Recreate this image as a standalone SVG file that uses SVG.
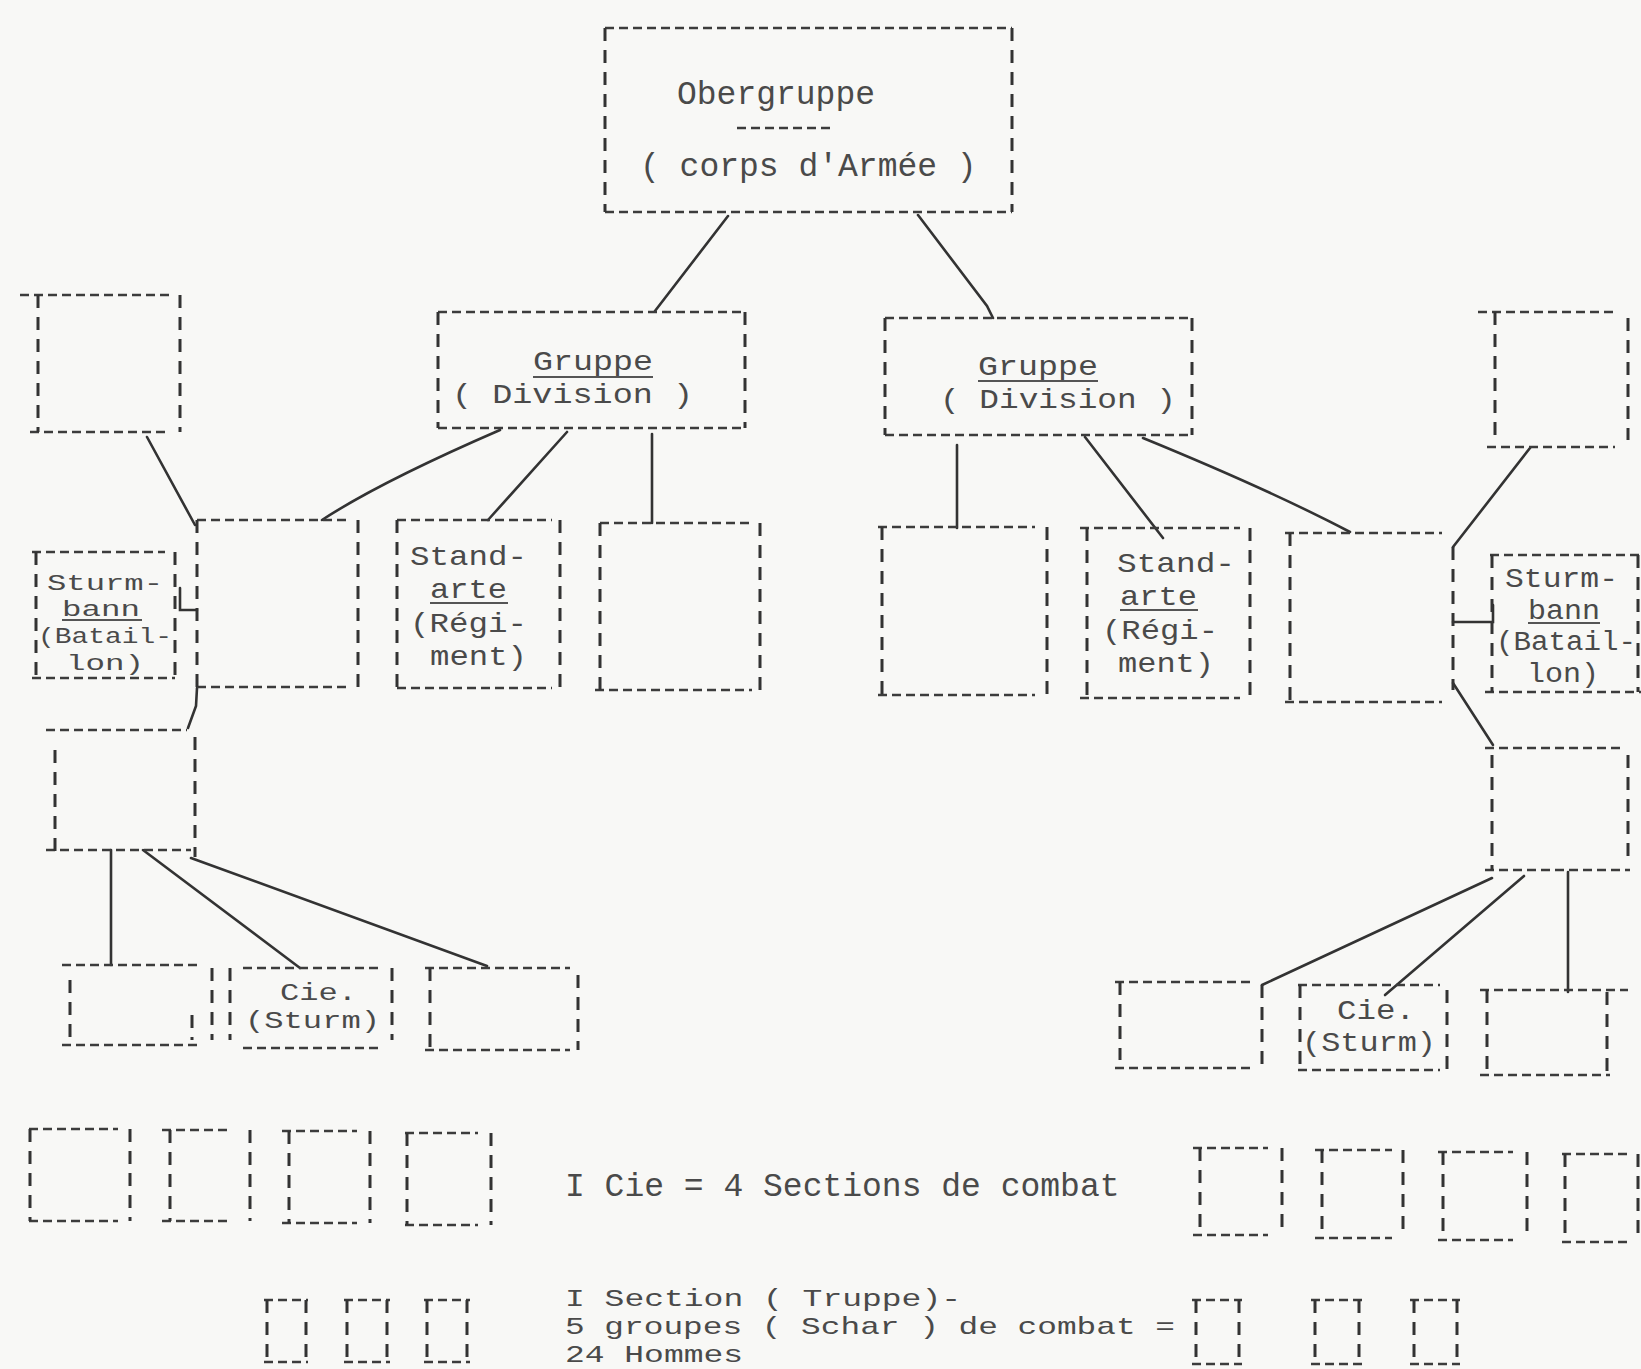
<svg xmlns="http://www.w3.org/2000/svg" width="1641" height="1369" viewBox="0 0 1641 1369">
<style>
.bg{fill:#f8f8f6}
.h{stroke:#3c3c3c;stroke-width:2.4;stroke-dasharray:9 5;fill:none}
.v{stroke:#333;stroke-width:3;stroke-dasharray:13 9;fill:none}
.c{stroke:#333;stroke-width:2.6;fill:none;stroke-linecap:round}
.u{stroke:#555;stroke-width:2}
text{font-family:"Liberation Mono","DejaVu Sans Mono",monospace;font-size:33px;fill:#4a4a4a}
.f28{font-size:28.5px}
.f27{font-size:27px}
.f24{font-size:24px}
.f22{font-size:22.5px}
</style>
<rect class="bg" x="0" y="0" width="1641" height="1369"/>
<g id="connectors">
<path class="c" d="M728,216 L655,311"/>
<path class="c" d="M918,215 L987,306 L993,318"/>
<path class="c" d="M500,430 Q380,482 322,520"/>
<path class="c" d="M567,432 L488,520"/>
<path class="c" d="M652,434 L652,523"/>
<path class="c" d="M147,437 L195,525"/>
<path class="c" d="M180,588 V610 H197"/>
<path class="c" d="M197,688 L196,706 L188,728"/>
<path class="c" d="M111,850 V965"/>
<path class="c" d="M143,850 L300,968"/>
<path class="c" d="M191,858 L487,966"/>
<path class="c" d="M957,445 V528"/>
<path class="c" d="M1085,437 L1163,538"/>
<path class="c" d="M1143,438 Q1270,490 1350,532"/>
<path class="c" d="M1530,448 L1453,547"/>
<path class="c" d="M1453,622 H1493 V605"/>
<path class="c" d="M1453,683 L1493,745"/>
<path class="c" d="M1492,878 L1262,985"/>
<path class="c" d="M1524,876 L1385,995"/>
<path class="c" d="M1568,872 V992"/>
</g>
<g id="obergruppe">
<line class="h" x1="605" y1="28" x2="1012" y2="28"/><line class="h" x1="605" y1="212" x2="1012" y2="212"/>
<line class="v" x1="605" y1="28" x2="605" y2="212"/><line class="v" x1="1012" y1="28" x2="1012" y2="212"/>
<text x="677" y="104">Obergruppe</text>
<line class="h" x1="737" y1="128" x2="835" y2="128"/>
<text x="640" y="176">( corps d'Armée )</text>
</g>
<g id="gruppe-left">
<line class="h" x1="438" y1="312" x2="745" y2="312"/><line class="h" x1="438" y1="428" x2="745" y2="428"/>
<line class="v" x1="438" y1="312" x2="438" y2="428"/><line class="v" x1="745" y1="312" x2="745" y2="428"/>
<text class="f28" x="533" y="370" textLength="120" lengthAdjust="spacingAndGlyphs">Gruppe</text><line class="u" x1="533" y1="377" x2="653" y2="377"/>
<text class="f28" x="452" y="403" textLength="241" lengthAdjust="spacingAndGlyphs">( Division )</text>
</g>
<g id="gruppe-right">
<line class="h" x1="885" y1="318" x2="1192" y2="318"/><line class="h" x1="885" y1="435" x2="1192" y2="435"/>
<line class="v" x1="885" y1="318" x2="885" y2="435"/><line class="v" x1="1192" y1="318" x2="1192" y2="435"/>
<text class="f28" x="978" y="375" textLength="120" lengthAdjust="spacingAndGlyphs">Gruppe</text><line class="u" x1="978" y1="381" x2="1098" y2="381"/>
<text class="f28" x="940" y="408" textLength="236" lengthAdjust="spacingAndGlyphs">( Division )</text>
</g>
<g id="left-top-box">
<line class="h" x1="20" y1="295" x2="170" y2="295"/><line class="h" x1="30" y1="432" x2="168" y2="432"/>
<line class="v" x1="38" y1="295" x2="38" y2="432"/><line class="v" x1="180" y1="295" x2="180" y2="432"/>
</g>
<g id="left-box-2">
<line class="h" x1="197" y1="520" x2="350" y2="520"/><line class="h" x1="197" y1="687" x2="350" y2="687"/>
<line class="v" x1="197" y1="520" x2="197" y2="687"/><line class="v" x1="358" y1="520" x2="358" y2="687"/>
</g>
<g id="sturmbann-left">
<line class="h" x1="32" y1="552" x2="165" y2="552"/><line class="h" x1="32" y1="678" x2="175" y2="678"/>
<line class="v" x1="36" y1="552" x2="36" y2="678"/><line class="v" x1="175" y1="552" x2="175" y2="678"/>
<text class="f22" x="47" y="590" textLength="116" lengthAdjust="spacingAndGlyphs">Sturm-</text>
<text class="f22" x="62" y="616" textLength="78" lengthAdjust="spacingAndGlyphs">bann</text><line class="u" x1="62" y1="620" x2="142" y2="620"/>
<text class="f22" x="38" y="643" textLength="134" lengthAdjust="spacingAndGlyphs">(Batail-</text>
<text class="f22" x="66" y="670" textLength="78" lengthAdjust="spacingAndGlyphs">lon)</text>
</g>
<g id="standarte-left">
<line class="h" x1="397" y1="520" x2="552" y2="520"/><line class="h" x1="397" y1="688" x2="552" y2="688"/>
<line class="v" x1="397" y1="520" x2="397" y2="688"/><line class="v" x1="560" y1="520" x2="560" y2="688"/>
<text class="f28" x="410" y="565" textLength="117" lengthAdjust="spacingAndGlyphs">Stand-</text>
<text class="f28" x="430" y="598" textLength="77" lengthAdjust="spacingAndGlyphs">arte</text><line class="u" x1="430" y1="603" x2="508" y2="603"/>
<text class="f28" x="410" y="632" textLength="117" lengthAdjust="spacingAndGlyphs">(Régi-</text>
<text class="f28" x="430" y="665" textLength="97" lengthAdjust="spacingAndGlyphs">ment)</text>
</g>
<g id="left-box-4">
<line class="h" x1="600" y1="523" x2="752" y2="523"/><line class="h" x1="595" y1="690" x2="752" y2="690"/>
<line class="v" x1="600" y1="523" x2="600" y2="690"/><line class="v" x1="760" y1="523" x2="760" y2="690"/>
</g>
<g id="right-box-a">
<line class="h" x1="878" y1="527" x2="1035" y2="527"/><line class="h" x1="878" y1="695" x2="1035" y2="695"/>
<line class="v" x1="882" y1="527" x2="882" y2="695"/><line class="v" x1="1047" y1="527" x2="1047" y2="695"/>
</g>
<g id="standarte-right">
<line class="h" x1="1080" y1="528" x2="1240" y2="528"/><line class="h" x1="1080" y1="698" x2="1240" y2="698"/>
<line class="v" x1="1087" y1="528" x2="1087" y2="698"/><line class="v" x1="1250" y1="528" x2="1250" y2="698"/>
<text class="f28" x="1117" y="572" textLength="118" lengthAdjust="spacingAndGlyphs">Stand-</text>
<text class="f28" x="1120" y="605" textLength="77" lengthAdjust="spacingAndGlyphs">arte</text><line class="u" x1="1120" y1="610" x2="1198" y2="610"/>
<text class="f28" x="1102" y="639" textLength="116" lengthAdjust="spacingAndGlyphs">(Régi-</text>
<text class="f28" x="1118" y="672" textLength="96" lengthAdjust="spacingAndGlyphs">ment)</text>
</g>
<g id="right-box-3">
<line class="h" x1="1285" y1="533" x2="1442" y2="533"/><line class="h" x1="1285" y1="702" x2="1442" y2="702"/>
<line class="v" x1="1290" y1="533" x2="1290" y2="702"/><line class="v" x1="1453" y1="547" x2="1453" y2="690"/>
</g>
<g id="right-top-box">
<line class="h" x1="1478" y1="312" x2="1613" y2="312"/><line class="h" x1="1487" y1="447" x2="1615" y2="447"/>
<line class="v" x1="1495" y1="312" x2="1495" y2="440"/><line class="v" x1="1628" y1="318" x2="1628" y2="440"/>
</g>
<g id="sturmbann-right">
<line class="h" x1="1490" y1="555" x2="1641" y2="555"/><line class="h" x1="1485" y1="692" x2="1641" y2="692"/>
<line class="v" x1="1492" y1="555" x2="1492" y2="692"/><line class="v" x1="1638" y1="555" x2="1638" y2="692"/>
<text class="f27" x="1505" y="587" textLength="113" lengthAdjust="spacingAndGlyphs">Sturm-</text>
<text class="f27" x="1528" y="619" textLength="72" lengthAdjust="spacingAndGlyphs">bann</text><line class="u" x1="1528" y1="623" x2="1600" y2="623"/>
<text class="f27" x="1496" y="650" textLength="140" lengthAdjust="spacingAndGlyphs">(Batail-</text>
<text class="f27" x="1527" y="682" textLength="72" lengthAdjust="spacingAndGlyphs">lon)</text>
</g>
<g id="left-lower-box">
<line class="h" x1="46" y1="730" x2="187" y2="730"/><line class="h" x1="46" y1="850" x2="191" y2="850"/>
<line class="v" x1="55" y1="750" x2="55" y2="857"/><line class="v" x1="195" y1="737" x2="195" y2="857"/>
</g>
<g id="left-company-1">
<line class="h" x1="62" y1="965" x2="200" y2="965"/><line class="h" x1="62" y1="1045" x2="197" y2="1045"/>
<line class="v" x1="70" y1="980" x2="70" y2="1037"/><line class="v" x1="192" y1="1015" x2="192" y2="1040"/>
</g>
<g id="cie-left">
<line class="h" x1="243" y1="968" x2="378" y2="968"/><line class="h" x1="243" y1="1048" x2="378" y2="1048"/>
<line class="v" x1="212" y1="968" x2="212" y2="1040"/><line class="v" x1="230" y1="968" x2="230" y2="1040"/>
<line class="v" x1="392" y1="968" x2="392" y2="1040"/>
<text class="f24" x="280" y="1000" textLength="77" lengthAdjust="spacingAndGlyphs">Cie.</text>
<text class="f24" x="245" y="1028" textLength="135" lengthAdjust="spacingAndGlyphs">(Sturm)</text>
</g>
<g id="left-company-3">
<line class="h" x1="425" y1="968" x2="570" y2="968"/><line class="h" x1="425" y1="1050" x2="570" y2="1050"/>
<line class="v" x1="430" y1="968" x2="430" y2="1050"/><line class="v" x1="578" y1="975" x2="578" y2="1050"/>
</g>
<g id="right-lower-box">
<line class="h" x1="1485" y1="748" x2="1620" y2="748"/><line class="h" x1="1485" y1="870" x2="1630" y2="870"/>
<line class="v" x1="1492" y1="755" x2="1492" y2="870"/><line class="v" x1="1628" y1="755" x2="1628" y2="860"/>
</g>
<g id="right-company-1">
<line class="h" x1="1115" y1="982" x2="1255" y2="982"/><line class="h" x1="1115" y1="1068" x2="1255" y2="1068"/>
<line class="v" x1="1120" y1="982" x2="1120" y2="1060"/><line class="v" x1="1262" y1="985" x2="1262" y2="1068"/>
</g>
<g id="cie-right">
<line class="h" x1="1298" y1="985" x2="1440" y2="985"/><line class="h" x1="1298" y1="1070" x2="1440" y2="1070"/>
<line class="v" x1="1300" y1="985" x2="1300" y2="1070"/><line class="v" x1="1447" y1="990" x2="1447" y2="1070"/>
<text class="f27" x="1337" y="1019" textLength="78" lengthAdjust="spacingAndGlyphs">Cie.</text>
<text class="f27" x="1302" y="1051" textLength="134" lengthAdjust="spacingAndGlyphs">(Sturm)</text>
</g>
<g id="right-company-3">
<line class="h" x1="1480" y1="990" x2="1628" y2="990"/><line class="h" x1="1480" y1="1075" x2="1610" y2="1075"/>
<line class="v" x1="1487" y1="990" x2="1487" y2="1075"/><line class="v" x1="1607" y1="992" x2="1607" y2="1075"/>
</g>
<g id="legend-sections-left">
<line class="h" x1="29" y1="1129" x2="118" y2="1129"/><line class="h" x1="29" y1="1221" x2="118" y2="1221"/>
<line class="v" x1="30" y1="1129" x2="30" y2="1221"/><line class="v" x1="130" y1="1129" x2="130" y2="1221"/>
<line class="h" x1="162" y1="1130" x2="229" y2="1130"/><line class="h" x1="162" y1="1221" x2="229" y2="1221"/>
<line class="v" x1="170" y1="1130" x2="170" y2="1221"/><line class="v" x1="250" y1="1130" x2="250" y2="1221"/>
<line class="h" x1="282" y1="1131" x2="357" y2="1131"/><line class="h" x1="282" y1="1223" x2="357" y2="1223"/>
<line class="v" x1="289" y1="1131" x2="289" y2="1223"/><line class="v" x1="370" y1="1131" x2="370" y2="1223"/>
<line class="h" x1="405" y1="1133" x2="478" y2="1133"/><line class="h" x1="405" y1="1225" x2="478" y2="1225"/>
<line class="v" x1="407" y1="1133" x2="407" y2="1225"/><line class="v" x1="491" y1="1133" x2="491" y2="1225"/>
</g>
<g id="legend-groups-left">
<line class="h" x1="264" y1="1300" x2="308" y2="1300"/><line class="h" x1="264" y1="1362" x2="308" y2="1362"/>
<line class="v" x1="267" y1="1300" x2="267" y2="1360"/><line class="v" x1="306" y1="1300" x2="306" y2="1360"/>
<line class="h" x1="344" y1="1300" x2="390" y2="1300"/><line class="h" x1="344" y1="1362" x2="390" y2="1362"/>
<line class="v" x1="347" y1="1300" x2="347" y2="1360"/><line class="v" x1="387" y1="1300" x2="387" y2="1360"/>
<line class="h" x1="424" y1="1300" x2="470" y2="1300"/><line class="h" x1="424" y1="1362" x2="470" y2="1362"/>
<line class="v" x1="427" y1="1300" x2="427" y2="1360"/><line class="v" x1="467" y1="1300" x2="467" y2="1360"/>
</g>
<g id="legend-text">
<text x="565" y="1196">I Cie = 4 Sections de combat</text>
<text class="f24" x="565" y="1306" textLength="396" lengthAdjust="spacingAndGlyphs">I Section ( Truppe)-</text>
<text class="f24" x="565" y="1334" textLength="610" lengthAdjust="spacingAndGlyphs">5 groupes ( Schar ) de combat =</text>
<text class="f24" x="565" y="1362" textLength="178" lengthAdjust="spacingAndGlyphs">24 Hommes</text>
</g>
<g id="legend-sections-right">
<line class="h" x1="1193" y1="1148" x2="1268" y2="1148"/><line class="h" x1="1193" y1="1235" x2="1268" y2="1235"/>
<line class="v" x1="1200" y1="1148" x2="1200" y2="1235"/><line class="v" x1="1282" y1="1148" x2="1282" y2="1235"/>
<line class="h" x1="1315" y1="1150" x2="1392" y2="1150"/><line class="h" x1="1315" y1="1238" x2="1392" y2="1238"/>
<line class="v" x1="1322" y1="1150" x2="1322" y2="1238"/><line class="v" x1="1403" y1="1150" x2="1403" y2="1238"/>
<line class="h" x1="1438" y1="1152" x2="1513" y2="1152"/><line class="h" x1="1438" y1="1240" x2="1513" y2="1240"/>
<line class="v" x1="1443" y1="1152" x2="1443" y2="1240"/><line class="v" x1="1527" y1="1152" x2="1527" y2="1240"/>
<line class="h" x1="1562" y1="1154" x2="1627" y2="1154"/><line class="h" x1="1562" y1="1242" x2="1627" y2="1242"/>
<line class="v" x1="1565" y1="1154" x2="1565" y2="1242"/><line class="v" x1="1638" y1="1154" x2="1638" y2="1242"/>
</g>
<g id="legend-groups-right">
<line class="h" x1="1192" y1="1300" x2="1242" y2="1300"/><line class="h" x1="1192" y1="1364" x2="1242" y2="1364"/>
<line class="v" x1="1196" y1="1300" x2="1196" y2="1362"/><line class="v" x1="1239" y1="1300" x2="1239" y2="1362"/>
<line class="h" x1="1311" y1="1300" x2="1362" y2="1300"/><line class="h" x1="1311" y1="1364" x2="1362" y2="1364"/>
<line class="v" x1="1315" y1="1300" x2="1315" y2="1362"/><line class="v" x1="1359" y1="1300" x2="1359" y2="1362"/>
<line class="h" x1="1410" y1="1300" x2="1460" y2="1300"/><line class="h" x1="1410" y1="1364" x2="1460" y2="1364"/>
<line class="v" x1="1414" y1="1300" x2="1414" y2="1362"/><line class="v" x1="1457" y1="1300" x2="1457" y2="1362"/>
</g>
</svg>
